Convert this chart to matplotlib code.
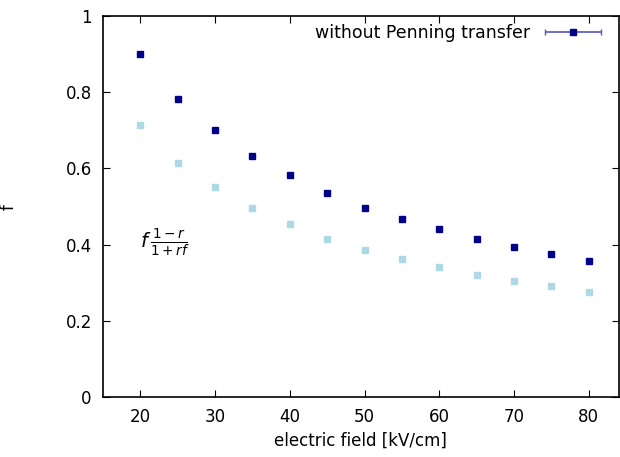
import matplotlib
matplotlib.use('Agg')
import matplotlib.pyplot as plt
from matplotlib.container import ErrorbarContainer
from matplotlib.legend_handler import HandlerErrorbar

plt.rcParams['font.family'] = ['DejaVu Sans']
plt.rcParams['mathtext.fontset'] = 'dejavusans'

field = [20, 25, 30, 35, 40, 45, 50, 55, 60, 65, 70, 75, 80]
f_nopenning = [0.900, 0.782, 0.701, 0.633, 0.583, 0.535, 0.496, 0.467, 0.441, 0.415, 0.394, 0.375, 0.357]
f_scaled = [0.714, 0.614, 0.551, 0.496, 0.454, 0.415, 0.386, 0.362, 0.341, 0.320, 0.304, 0.291, 0.276]

fig = plt.figure(figsize=(6.2, 4.57), dpi=100)
ax = fig.add_axes([0.166, 0.131, 0.832, 0.834])

ax.plot(field, f_scaled, 's', color='#add8e6', markersize=5, linestyle='none')
ax.errorbar(field, f_nopenning, xerr=0, fmt='s', color='#00008b', markersize=5,
            ecolor='#00008b', elinewidth=1, capsize=2)

ax.text(19.9, 0.405, r'$f\,\frac{1-r}{1+rf}$', fontsize=14, ha='left', va='center')

ax.set_xlim(15, 84)
ax.set_ylim(0, 1)
ax.set_xticks([20, 30, 40, 50, 60, 70, 80])
ax.set_yticks([0, 0.2, 0.4, 0.6, 0.8, 1])
ax.set_yticklabels(['0', '0.2', '0.4', '0.6', '0.8', '1'])
ax.tick_params(direction='in', top=True, right=True, labelsize=12, length=5, pad=8)
for s in ax.spines.values():
    s.set_linewidth(1.2)

ax.set_xlabel('electric field [kV/cm]', fontsize=12)
ax.set_ylabel('f', fontsize=12)
ax.yaxis.set_label_coords(-0.165, 0.5)

# legend handle only, not drawn on the axes
h = ax.errorbar([0], [0], xerr=[1], fmt='s', color='#00008b', markersize=5,
                ecolor='#5555bb', capsize=2.5, elinewidth=1.2)
h[0].set_data([], [])
for c in h[1]:
    c.set_data([], [])
for b in h[2]:
    b.set_segments([])
leg = ax.legend([h], ['without Penning transfer'], loc='upper right', frameon=False,
                markerfirst=False, fontsize=12.5, handlelength=3.3, handletextpad=0.8,
                borderaxespad=0.3, bbox_to_anchor=(0.99, 1.01),
                handler_map={ErrorbarContainer: HandlerErrorbar(xerr_size=1.6)})

fig.savefig('out.png', dpi=100)
